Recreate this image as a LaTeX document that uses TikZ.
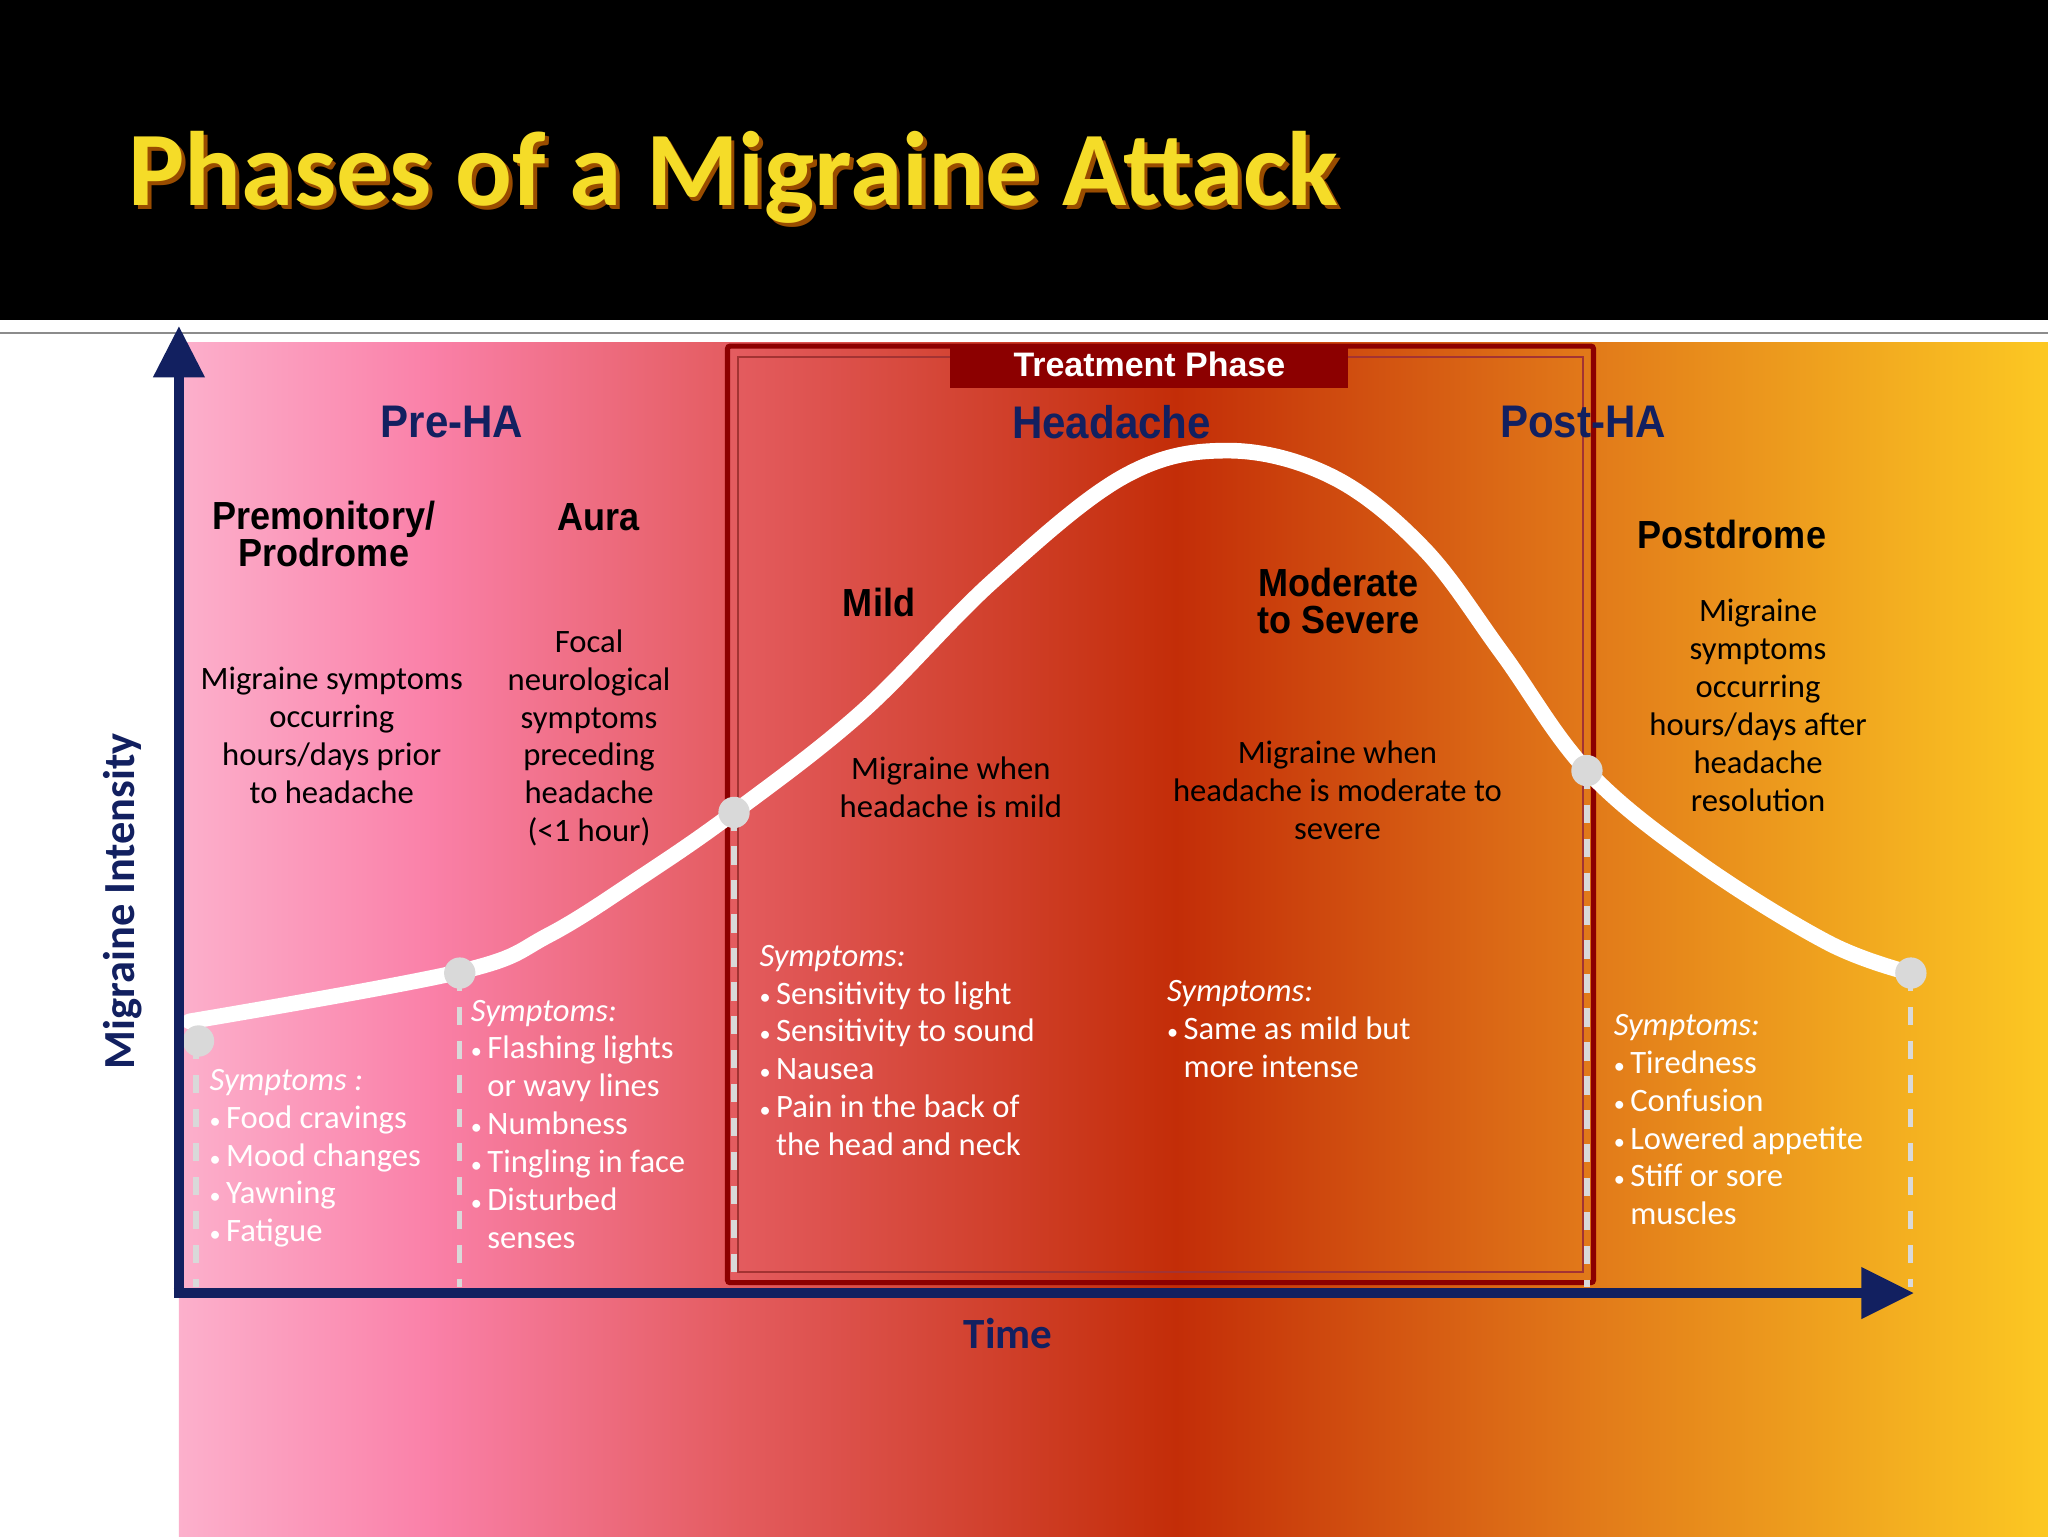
\documentclass[tikz,border=0pt]{standalone}
\usepackage{fontspec}
\setmainfont{Carlito}
\newfontfamily\arn[FakeStretch=0.92]{Liberation Sans}
\newfontfamily\ars{Liberation Sans}
\usetikzlibrary{arrows.meta}
\definecolor{navy}{RGB}{18,32,96}
\definecolor{ca}{RGB}{252,176,204}
\definecolor{cb}{RGB}{250,128,168}
\definecolor{cc}{RGB}{228,92,96}
\definecolor{cd}{RGB}{195,45,8}
\definecolor{ce}{RGB}{225,120,25}
\definecolor{cf}{RGB}{252,200,35}
\definecolor{tred}{RGB}{140,0,0}
\definecolor{ttl}{RGB}{245,220,40}
\tikzset{
 body/.style={align=center,font=\fontsize{25}{29}\selectfont},
 head/.style={align=center,font=\arn\bfseries\fontsize{30}{28}\selectfont},
 phase/.style={align=center,text=navy,font=\arn\bfseries\fontsize{35}{36}\selectfont},
 symp/.style={align=left,anchor=north west,text=white,font=\fontsize{25}{29}\selectfont},
 dot/.style={circle,fill=black!15,minimum size=24pt,inner sep=0pt},
 drop/.style={draw=white!85!black,line width=4pt,dash pattern=on 14pt off 12pt},
}
\newcommand{\bl}{{\fontsize{17}{17}\selectfont\textbullet}\,}
\newcommand{\bs}{\phantom{\bl}}
\begin{document}
\begin{tikzpicture}[x=1pt,y=-1pt]
\useasboundingbox (0,0) rectangle (1568,1176);
\fill[white] (0,0) rectangle (1568,1176);
\fill[black] (0,0) rectangle (1568,245);
\draw[black!45,line width=2pt] (0,255) -- (1568,255);
% gradient
\shade[left color=ca,right color=cb] (137,262) rectangle (331,1176);
\shade[left color=cb,right color=cc] (330,262) rectangle (561,1176);
\shade[left color=cc,right color=cd] (560,262) rectangle (901,1176);
\shade[left color=cd,right color=ce] (900,262) rectangle (1211,1176);
\shade[left color=ce,right color=cf] (1210,262) rectangle (1568,1176);
% title
\node[anchor=west,text=orange!60!black,font=\bfseries\fontsize{81}{81}\selectfont] at (98,139) {Phases of a Migraine Attack};
\node[anchor=west,text=ttl,font=\bfseries\fontsize{81}{81}\selectfont] (title) at (95,136) {Phases of a Migraine Attack};
% treatment box
\draw[tred,line width=4pt,rounded corners=2pt] (557,265) rectangle (1220,982);
\draw[tred!80,line width=1.5pt] (565,273) rectangle (1212,974);
\fill[tred] (727,264) rectangle (1032,297);
\node[text=white,font=\ars\bfseries\fontsize{26}{26}\selectfont] (tp) at (880,279) {Treatment Phase};
% drop lines
\foreach \x/\y in {150/797,352/745,562/622,1215/590,1463/745}
  \draw[drop] (\x,\y) -- (\x,985);
% curve
\draw[white,line width=12pt,line cap=round] plot[smooth,tension=0.6] coordinates
 {(145,782) (352,744) (420,716) (490,672) (562,622) (660,545) (760,445) (860,365) (940,345) (1020,365) (1090,420) (1150,500) (1215,590) (1300,660) (1400,722) (1463,745)};
\foreach \x/\y [count=\i] in {152/797,352/745,562/622,1215/590,1463/745}
  \node[dot] (d\i) at (\x,\y) {};
% axes
\draw[navy,line width=8pt] (137,990) -- (137,285);
\fill[navy] (117,289) -- (137,250) -- (157,289) -- cycle;
\draw[navy,line width=8pt] (133,990) -- (1430,990);
\fill[navy] (1425,970) -- (1465,990) -- (1425,1010) -- cycle;
\node[text=navy,font=\bfseries\fontsize{34}{34}\selectfont,rotate=90] (yl) at (94,690) {Migraine Intensity};
\node[text=navy,font=\bfseries\fontsize{33}{33}\selectfont] (xl) at (772,1021) {Time};
% phases
\node[phase] (pre) at (346,323) {Pre-HA};
\node[phase] (ha) at (851,323) {Headache};
\node[phase] (post) at (1212,323) {Post-HA};
% heads
\node[head] (prod) at (248,409) {Premonitory/\\Prodrome};
\node[head] (aura) at (458,396) {Aura};
\node[head] (mild) at (673,461) {Mild};
\node[head] (mod) at (1025,460) {Moderate\\to Severe};
\node[head] (pd) at (1326,409) {Postdrome};
% descriptions
\node[body] (t1) at (254,563) {Migraine symptoms\\occurring\\hours/days prior\\to headache};
\node[body] (t2) at (451,565) {Focal\\neurological\\symptoms\\preceding\\headache\\(<1 hour)};
\node[body] (t3) at (728,603) {Migraine when\\headache is mild};
\node[body] (t4) at (1024,605) {Migraine when\\headache is moderate to\\severe};
\node[body] (t5) at (1346,540) {Migraine\\symptoms\\occurring\\hours/days after\\headache\\resolution};
% symptoms
\node[symp] (s1) at (157,815) {\textit{Symptoms :}\\\bl Food cravings\\\bl Mood changes\\\bl Yawning\\\bl Fatigue};
\node[symp] (s2) at (357,762) {\textit{Symptoms:}\\\bl Flashing lights\\\bs or wavy lines\\\bl Numbness\\\bl Tingling in face\\\bl Disturbed\\\bs senses};
\node[symp] (s3) at (578,720) {\textit{Symptoms:}\\\bl Sensitivity to light\\\bl Sensitivity to sound\\\bl Nausea\\\bl Pain in the back of\\\bs the head and neck};
\node[symp] (s4) at (890,747) {\textit{Symptoms:}\\\bl Same as mild but\\\bs more intense};
\node[symp] (s5) at (1232,773) {\textit{Symptoms:}\\\bl Tiredness\\\bl Confusion\\\bl Lowered appetite\\\bl Stiff or sore\\\bs muscles};
\end{tikzpicture}
\end{document}
